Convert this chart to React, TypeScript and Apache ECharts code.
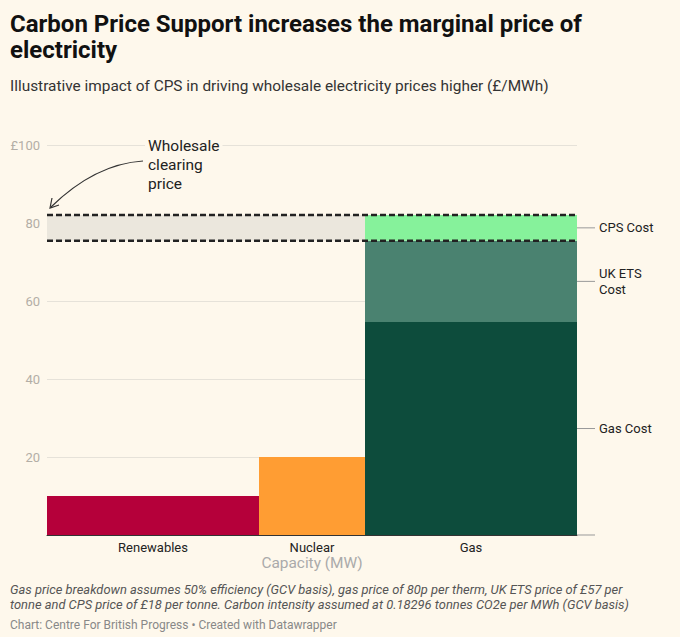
import React, { useEffect, useRef } from "react";
import * as echarts from "echarts";

// ---- data ----
const categories = ["Renewables", "Nuclear", "Gas"];
const capacityWidths = [2, 1, 2]; // illustrative capacity (MW) widths
const flatPrices = [10, 20]; // Renewables, Nuclear (£/MWh)
const gasLabels = ["Gas Cost", "UK ETS\nCost", "CPS Cost"];
const gasValues = [54.6, 20.86, 6.59];
const yTicks = [0, 20, 40, 60, 80, 100];

const colors = ["#b5003a", "#ff9d33", "#0d4c3c", "#4a8270", "#86f29b"];

export default function App() {
  const ref = useRef<HTMLDivElement>(null);
  useEffect(() => {
    document.body.style.margin = "0";
    const chart = echarts.init(ref.current!, undefined, { renderer: "svg" });

    // build rectangle rows: [x0, x1, y0, y1, colorIdx, labelIdx, catIdx]
    const rows: number[][] = [];
    let xs = 0;
    categories.forEach((c, i) => {
      const x0 = xs;
      const x1 = xs + capacityWidths[i];
      xs = x1;
      if (i < flatPrices.length) {
        rows.push([x0, x1, 0, flatPrices[i], i, -1, i]);
      } else {
        let base = 0;
        gasValues.forEach((v, j) => {
          rows.push([x0, x1, base, base + v, 2 + j, j, j === 0 ? i : -1]);
          base += v;
        });
      }
    });
    const xMax = xs;
    const clearTop = gasValues.reduce((a, b) => a + b, 0);
    const clearLow = gasValues[0] + gasValues[1];
    const gasStart = capacityWidths[0] + capacityWidths[1];

    const font = "Roboto, 'Noto Sans', sans-serif";

    chart.setOption({
      animation: false,
      backgroundColor: "#fef8ec",
      textStyle: { fontFamily: font },
      title: [
        {
          text: "Carbon Price Support increases the marginal price of\nelectricity",
          left: 10,
          top: 10.5,
          padding: 0,
          textStyle: { fontFamily: font, fontSize: 24, fontWeight: "bold", color: "#111", lineHeight: 26 },
        },
        {
          text: "Illustrative impact of CPS in driving wholesale electricity prices higher (£/MWh)",
          left: 10,
          top: 78,
          padding: 0,
          textStyle: { fontFamily: font, fontSize: 15.4, fontWeight: "normal", color: "#333" },
        },
        {
          text:
            "Gas price breakdown assumes 50% efficiency (GCV basis), gas price of 80p per therm, UK ETS price of £57 per\ntonne and CPS price of £18 per tonne. Carbon intensity assumed at 0.18296 tonnes CO2e per MWh (GCV basis)",
          left: 10,
          top: 581.5,
          padding: 0,
          textStyle: { fontFamily: font, fontSize: 12.9, fontStyle: "italic", fontWeight: "normal", color: "#555", lineHeight: 15.5 },
        },
        {
          text: "Chart: Centre For British Progress • Created with Datawrapper",
          left: 10,
          top: 619,
          padding: 0,
          textStyle: { fontFamily: font, fontSize: 12, fontWeight: "normal", color: "#888" },
        },
      ],
      grid: { left: 47, right: 103, top: 145, bottom: 102 },
      xAxis: {
        type: "value",
        min: 0,
        max: xMax,
        axisLabel: { show: false },
        axisTick: { show: false },
        splitLine: { show: false },
        axisLine: { show: true, lineStyle: { color: "#333", width: 1 } },
        name: "Capacity (MW)",
        nameLocation: "middle",
        nameGap: 20,
        nameTextStyle: { color: "#aaa", fontSize: 15.4, fontFamily: font },
      },
      yAxis: {
        type: "value",
        min: yTicks[0],
        max: yTicks[yTicks.length - 1],
        interval: 20,
        axisLine: { show: false },
        axisTick: { show: false },
        axisLabel: {
          margin: 7,
          color: "#b3aea6",
          fontSize: 13,
          fontFamily: font,
          formatter: (v: number) => (v === 0 ? "" : v === 100 ? "£100" : String(v)),
        },
        splitLine: { lineStyle: { color: "#e6e2d9", width: 1 } },
      },
      graphic: [
        {
          type: "text",
          left: 145,
          top: 136,
          z: 10,
          style: {
            text: "Wholesale\nclearing\nprice",
            fontSize: 15.5,
            lineHeight: 19,
            fill: "#222",
            fontFamily: font,
            backgroundColor: "#fef8ec",
            padding: [0, 3, 0, 3],
          },
        },
        {
          type: "bezierCurve",
          shape: { x1: 143, y1: 161, cpx1: 95, cpy1: 164, x2: 51, y2: 207 },
          style: { stroke: "#333", lineWidth: 1.2, fill: "none" },
        },
        {
          type: "polyline",
          shape: { points: [[52, 198], [50, 208], [59, 205]] },
          style: { stroke: "#333", lineWidth: 1.2, fill: "none" },
        },
      ],
      series: [
        {
          type: "custom",
          z: 1,
          data: [[0, gasStart, clearLow, clearTop]],
          encode: { x: [0, 1], y: [2, 3] },
          renderItem: (params: any, api: any) => {
            const p0 = api.coord([api.value(0), api.value(2)]);
            const p1 = api.coord([api.value(1), api.value(3)]);
            return {
              type: "rect",
              shape: { x: p0[0], y: p1[1], width: p1[0] - p0[0], height: p0[1] - p1[1] },
              style: { fill: "#ebe7dd" },
            };
          },
        },
        {
          type: "custom",
          z: 2,
          data: rows,
          encode: { x: [0, 1], y: [2, 3] },
          renderItem: (params: any, api: any) => {
            const x0 = api.value(0), x1 = api.value(1), y0 = api.value(2), y1 = api.value(3);
            const ci = api.value(4), li = api.value(5), cat = api.value(6);
            const p0 = api.coord([x0, y0]);
            const p1 = api.coord([x1, y1]);
            const children: any[] = [
              {
                type: "rect",
                shape: { x: p0[0], y: p1[1], width: p1[0] - p0[0], height: p0[1] - p1[1] },
                style: { fill: colors[ci] },
              },
            ];
            if (li >= 0) {
              const mid = (p0[1] + p1[1]) / 2;
              children.push({
                type: "line",
                shape: { x1: p1[0], y1: mid, x2: p1[0] + 18, y2: mid },
                style: { stroke: "#999", lineWidth: 1 },
              });
              children.push({
                type: "text",
                x: p1[0] + 22,
                y: mid,
                style: {
                  text: gasLabels[li],
                  fontSize: 13,
                  lineHeight: 16,
                  fill: "#222",
                  fontFamily: font,
                  verticalAlign: "middle",
                  align: "left",
                },
              });
              if (y0 === 0) {
                children.push({
                  type: "line",
                  shape: { x1: p1[0], y1: p0[1], x2: p1[0] + 18, y2: p0[1] },
                  style: { stroke: "#999", lineWidth: 1 },
                });
              }
            }
            if (cat >= 0) {
              children.push({
                type: "text",
                x: (p0[0] + p1[0]) / 2,
                y: p0[1] + 5.5,
                style: {
                  text: categories[cat],
                  fontSize: 13,
                  fill: "#222",
                  fontFamily: font,
                  align: "center",
                  verticalAlign: "top",
                },
              });
            }
            return { type: "group", children };
          },
        },
        {
          type: "custom",
          z: 3,
          data: [
            [0, xMax, clearTop],
            [0, xMax, clearLow],
          ],
          encode: { x: [0, 1], y: 2 },
          renderItem: (params: any, api: any) => {
            const a = api.coord([api.value(0), api.value(2)]);
            const b = api.coord([api.value(1), api.value(2)]);
            return {
              type: "line",
              shape: { x1: a[0], y1: a[1], x2: b[0], y2: b[1] },
              style: { stroke: "#222", lineWidth: 2.6, lineDash: [6, 3] },
            };
          },
        },
      ],
    });
    return () => chart.dispose();
  }, []);
  return <div ref={ref} style={{ width: 680, height: 637 }} />;
}
